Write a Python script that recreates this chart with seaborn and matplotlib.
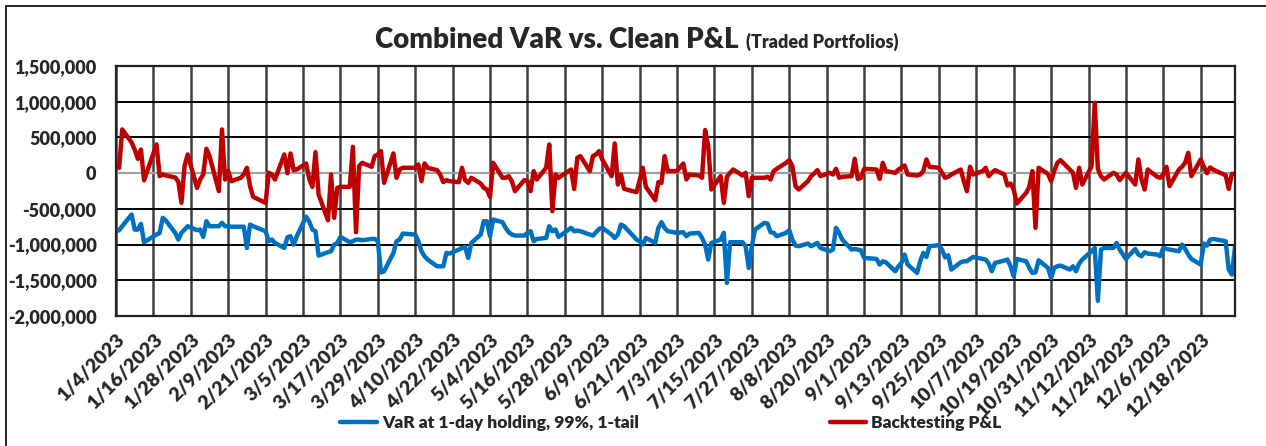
import matplotlib.pyplot as plt
import matplotlib.ticker as mticker
from matplotlib.lines import Line2D
import seaborn as sns
import numpy as np
import pandas as pd

# trading days 2023 (US holidays removed)
holidays = ['2023-01-16', '2023-02-20', '2023-04-07', '2023-05-29', '2023-06-19',
            '2023-07-04', '2023-09-04', '2023-11-23', '2023-12-25']

# values in thousands, one list per month
var_jan = [-813, -799, -743, -579, -790, -790, -710, -967, -860, -836, -626, -664, -836, -930, -836, -790, -743, -799, -790]
pnl_jan = [98, 75, 612, 430, 330, 200, 330, -100, 402, -42, -19, -33, -60, -120, -416, 100, 262, -206, -89]

var_feb = [-893, -673, -743, -743, -696, -743, -743, -750, -750, -750, -1047, -720, -743, -813, -953, -930, -977, -1047, -897]
pnl_feb = [-19, 341, 238, -252, 612, -89, 28, -112, -65, -19, 75, -182, -332, -416, 5, -19, -89, 262, 0]

var_mar = [-883, -1000, -883, -610, -680, -790, -813, -1154, -1107, -1093, -1000, -977, -893, -967, -953, -930, -930, -940, -921, -921, -950, -1390, -1374]
pnl_mar = [275, 40, 51, 136, -79, -192, 294, -299, -659, -19, -626, -206, -192, -192, 369, -827, 98, 145, 89, 238, 262, 308, -136]

var_apr = [-1117, -953, -930, -846, -860, -953, -1093, -1164, -1210, -1304, -1304, -1304, -1117, -1126, -1070, -1047, -1033, -1187, -977]
pnl_apr = [276, -65, 51, 75, 75, 121, -112, 136, 75, 42, -19, -126, -98, -112, -126, 75, -98, -136, -65]

var_may = [-860, -673, -673, -883, -650, -687, -766, -827, -860, -874, -874, -836, -813, -953, -921, -907, -743, -813, -790, -893, -766, -813]
pnl_may = [-145, -206, -229, -332, 145, -65, -65, -42, -112, -252, -98, -112, -252, 28, -89, 75, 402, -533, -19, -65, 51, -220]

var_jun = [-804, -813, -860, -874, -827, -780, -766, -860, -907, -860, -720, -743, -930, -953, -1000, -907, -977, -766, -687, -766, -813]
pnl_jun = [215, 238, 28, 238, 262, 308, 192, -42, 416, -159, -19, -220, -266, -100, 75, -192, -378, -126, -136, 238, 28]

var_jul = [-836, -827, -883, -846, -836, -907, -1000, -1210, -977, -930, -836, -1537, -967, -967, -967, -1023, -1327, -1023, -790, -696]
pnl_jul = [30, 135, -89, -19, -33, -65, 603, 378, -229, -42, -416, -51, 5, 51, -33, 5, -322, -65, -65, -65]

var_aug = [-706, -827, -836, -883, -836, -799, -930, -1014, -1023, -986, -1023, -1000, -977, -1047, -1093, -1070, -766, -836, -930, -1070, -1061, -1070, -1080]
pnl_aug = [-51, -89, 28, 61, 145, 182, 98, -182, -229, -112, -42, -5, 42, -42, 5, -19, 61, -65, -51, -42, 201, -80, -65]

var_sep = [-1187, -1201, -1280, -1234, -1248, -1374, -1304, -1257, -1140, -1280, -1397, -1234, -1117, -1173, -1023, -1009, -1070, -1180, -1150, -1350]
pnl_sep = [61, 51, -80, 145, 28, 5, 51, 75, 107, -19, -33, -19, 28, 192, 89, 75, 5, -65, -51, -19]

var_oct = [-1248, -1234, -1234, -1201, -1173, -1201, -1210, -1266, -1374, -1257, -1224, -1210, -1304, -1444, -1201, -1234, -1327, -1397, -1388, -1220, -1327, -1467]
pnl_oct = [51, -112, -252, 89, -19, 28, 75, -42, 5, 42, -19, -173, -145, -230, -425, -276, -192, 28, -766, 75, -10, -112]

var_nov = [-1327, -1304, -1294, -1350, -1304, -1374, -1266, -1210, -1093, -1047, -1787, -1070, -1047, -1047, -977, -1070, -1201, -1061, -1140, -1163, -1107]
pnl_nov = [28, 145, 182, 51, 5, -206, 75, -159, 98, 986, 61, -42, -89, 5, -19, -98, 5, -159, 192, -89, -229]

var_dec = [-1126, -1140, -1163, -1047, -1060, -1070, -1093, -1000, -1061, -1140, -1201, -1280, -986, -1014, -930, -921, -953, -1350, -1420, -1030]
pnl_dec = [51, -51, -65, -19, 89, -182, 51, 89, 145, 285, -42, 192, 90, 0, 80, 50, -30, -220, -10, -10]

var_label = 'VaR at 1-day holding, 99%, 1-tail'
pnl_label = 'Backtesting P&L'

dates = pd.bdate_range('2023-01-04', '2023-12-29', freq='C', holidays=holidays)
var_all = var_jan + var_feb + var_mar + var_apr + var_may + var_jun + var_jul + var_aug + var_sep + var_oct + var_nov + var_dec
pnl_all = pnl_jan + pnl_feb + pnl_mar + pnl_apr + pnl_may + pnl_jun + pnl_jul + pnl_aug + pnl_sep + pnl_oct + pnl_nov + pnl_dec

df = pd.DataFrame({'date': dates,
                   var_label: np.array(var_all) * 1000,
                   pnl_label: np.array(pnl_all) * 1000})

sns.set_style('white')
plt.rcParams['font.family'] = ['Lato', 'DejaVu Sans']
plt.rcParams['font.weight'] = 'heavy'

fig = plt.figure(figsize=(12.66, 4.46), dpi=100)
ax = fig.add_axes([116 / 1266, 1 - 316 / 446, (1235 - 116) / 1266, (316 - 66) / 446])

sns.lineplot(data=df, x='date', y=var_label, ax=ax, color='#0070C0', linewidth=3.2, label=var_label)
sns.lineplot(data=df, x='date', y=pnl_label, ax=ax, color='#C00000', linewidth=3.2, label=pnl_label)

ax.set_xlim(pd.Timestamp('2023-01-04'), pd.Timestamp('2023-12-29'))
ax.set_ylim(-2000000, 1500000)
ax.set_yticks(np.arange(-2000000, 1500001, 500000))
ax.yaxis.set_major_formatter(mticker.FuncFormatter(lambda v, p: f'{int(v):,}'))

xt = pd.date_range('2023-01-04', '2023-12-29', freq='12D')
ax.set_xticks(xt)
ax.set_xticklabels([f'{d.month}/{d.day}/{d.year}' for d in xt], rotation=45,
                   ha='right', va='top', rotation_mode='anchor', fontsize=14, fontweight='heavy')
ax.tick_params(axis='y', labelsize=13, length=5, width=1, color='black', pad=9)
ax.tick_params(axis='x', length=0, pad=11)
for lab in ax.get_yticklabels():
    lab.set_fontweight('heavy')

ax.set_xlabel('')
ax.set_ylabel('')
ax.grid(True, axis='y', color='black', linewidth=1.4)
ax.grid(True, axis='x', color='#404040', linewidth=1.8)
ax.axhline(0, color='#A0A0A0', linewidth=1.6, zorder=1.5)
for s in ax.spines.values():
    s.set_color('#222222')
    s.set_linewidth(1.6)
ax.set_axisbelow(True)

ax.legend(loc='center', bbox_to_anchor=(671 / 1266, 23 / 446), bbox_transform=fig.transFigure,
          ncol=2, frameon=False, handlelength=2.1, handletextpad=0.3,
          columnspacing=11, prop={'weight': 'heavy', 'size': 12.5})

fig.text(739 / 1266, 1 - 48 / 446, 'Combined VaR vs. Clean P&L', ha='right', va='baseline',
         fontsize=20, fontweight='heavy')
fig.text(746 / 1266, 1 - 48 / 446, '(Traded Portfolios)', ha='left', va='baseline',
         fontsize=13, fontweight='heavy')

fig.add_artist(Line2D([6 / 1266, 6 / 1266], [0, 1 - 6 / 446], transform=fig.transFigure, color='black', linewidth=1.2))
fig.add_artist(Line2D([6 / 1266, 1], [1 - 6 / 446, 1 - 6 / 446], transform=fig.transFigure, color='black', linewidth=1.2))

fig.savefig('out.png', dpi=100)
